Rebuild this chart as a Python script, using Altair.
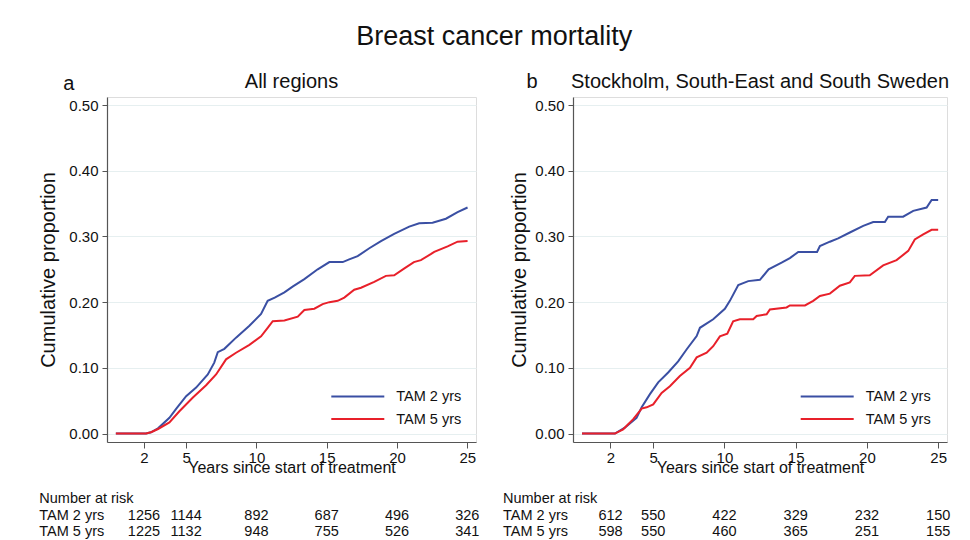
import altair as alt
import pandas as pd

FONT = "Liberation Sans"
BLUE = "#3a4fa3"
RED = "#e8202a"
GROUPS = ["TAM 2 yrs", "TAM 5 yrs"]

# ---- Panel a: All regions ----
a_blue_x = [0, 2.15, 2.5, 3.0, 3.81, 4.3, 5.0, 5.71, 6.54, 7.0, 7.25, 7.72, 8.55, 9.5, 10.33, 10.8, 11.3,
            11.99, 12.6, 13.41, 14.36, 15.19, 16.14, 16.6, 17.2, 18.03, 18.86, 19.8, 20.87, 21.58, 22.53,
            23.48, 24.31, 25.02]
a_blue_y = [0, 0, 0.002, 0.008, 0.024, 0.038, 0.057, 0.070, 0.090, 0.108, 0.124, 0.129, 0.146, 0.164, 0.182,
            0.202, 0.207, 0.215, 0.224, 0.235, 0.250, 0.261, 0.261, 0.265, 0.270, 0.282, 0.293, 0.304, 0.315,
            0.320, 0.321, 0.327, 0.337, 0.344]
a_red_x = [0, 2.15, 2.5, 3.0, 3.81, 4.52, 5.48, 6.42, 7.13, 7.84, 8.55, 9.5, 10.33, 10.8, 11.16, 11.99, 12.94,
           13.41, 14.12, 14.71, 15.19, 15.78, 16.25, 16.96, 17.44, 18.38, 19.21, 19.8, 20.5, 21.2, 21.7, 22.4,
           22.65, 23.6, 24.31, 25.02]
a_red_y = [0, 0, 0.002, 0.007, 0.017, 0.034, 0.055, 0.0735, 0.090, 0.113, 0.123, 0.135, 0.148, 0.161, 0.171,
           0.172, 0.178, 0.188, 0.190, 0.197, 0.200, 0.202, 0.207, 0.219, 0.222, 0.231, 0.240, 0.241, 0.251,
           0.261, 0.264, 0.273, 0.2765, 0.285, 0.292, 0.293]

# ---- Panel b: Stockholm, South-East and South Sweden ----
b_blue_x = [0, 2.31, 3.01, 3.83, 4.19, 4.77, 5.35, 6.05, 6.75, 7.34, 8.05, 8.28, 9.21, 10.03, 10.38, 10.97,
            11.67, 12.49, 13.1, 14.01, 14.59, 15.18, 16.5, 16.7, 17.4, 17.98, 18.8, 19.74, 20.44, 21.26, 21.49,
            22.54, 23.25, 24.19, 24.54, 25.0]
b_blue_y = [0, 0, 0.009, 0.024, 0.040, 0.060, 0.078, 0.093, 0.110, 0.128, 0.1485, 0.161, 0.174, 0.190, 0.202,
            0.226, 0.232, 0.234, 0.250, 0.260, 0.267, 0.2765, 0.2765, 0.2855, 0.292, 0.297, 0.306, 0.316, 0.322,
            0.322, 0.330, 0.330, 0.339, 0.344, 0.3555, 0.3555]
b_red_x = [0, 2.31, 2.89, 3.6, 4.19, 4.54, 5.0, 5.59, 6.17, 6.87, 7.58, 8.05, 8.75, 9.21, 9.68, 10.2, 10.61,
           11.08, 12.02, 12.26, 12.96, 13.19, 14.36, 14.59, 15.65, 16.23, 16.7, 17.4, 18.1, 18.8, 19.15, 20.2,
           21.14, 22.08, 22.9, 23.36, 23.95, 24.54, 25.0]
b_red_y = [0, 0, 0.0065, 0.022, 0.038, 0.040, 0.0445, 0.062, 0.072, 0.0875, 0.100, 0.116, 0.123, 0.133, 0.148,
           0.152, 0.171, 0.174, 0.174, 0.179, 0.1815, 0.189, 0.192, 0.195, 0.195, 0.202, 0.2095, 0.213, 0.225,
           0.230, 0.240, 0.241, 0.256, 0.264, 0.278, 0.2955, 0.303, 0.310, 0.310]

# ---- Number at risk ----
risk_years = [2, 5, 10, 15, 20, 25]
a_n2 = [1256, 1144, 892, 687, 496, 326]
a_n5 = [1225, 1132, 948, 755, 526, 341]
b_n2 = [612, 550, 422, 329, 232, 150]
b_n5 = [598, 550, 460, 365, 251, 155]

y_ticks = [0, 0.1, 0.2, 0.3, 0.4, 0.5]

X_SCALE = alt.Scale(domain=[-0.63, 25.62], nice=False, zero=False)
Y_SCALE = alt.Scale(domain=[-0.0128, 0.5122], nice=False, zero=False)
PLOT_H = 345

X_AXIS = alt.Axis(values=risk_years, title="Years since start of treatment", grid=False,
                  labelFontSize=15, labelFont=FONT, labelColor="#111", labelPadding=2,
                  labelFlush=False, labelOverlap=False,
                  tickSize=6, tickColor="#555", domainColor="#555", domainWidth=1.2,
                  titleFontSize=16, titleFont=FONT, titleFontWeight="normal", titleColor="#111",
                  titleY=30.3, titleBaseline="alphabetic")


def xenc():
    return alt.X("year:Q", scale=X_SCALE, axis=X_AXIS)


def txt(s, x, y, size, align="left", baseline="alphabetic"):
    return alt.Chart(pd.DataFrame({"t": [s]})).mark_text(
        align=align, baseline=baseline, fontSize=size, font=FONT, color="#111"
    ).encode(x=alt.value(x), y=alt.value(y), text="t:N")


def panel(letter, title, bx, by, rx, ry, n2, n5, width, letter_pos, ytitle_x, row_x, leg_x1, leg_x2, leg_tx):
    df = pd.concat([
        pd.DataFrame({"year": bx, "value": by, "group": GROUPS[0]}),
        pd.DataFrame({"year": rx, "value": ry, "group": GROUPS[1]}),
    ])
    lines = alt.Chart(df).mark_line(strokeWidth=2).encode(
        x=xenc(),
        y=alt.Y("value:Q", scale=Y_SCALE,
                axis=alt.Axis(values=y_ticks, format=".2f", title="Cumulative proportion",
                              grid=True, gridColor="#e6eff0", gridWidth=1,
                              labelFontSize=15, labelFont=FONT, labelColor="#111", labelPadding=4,
                              tickSize=5, tickColor="#555", domainColor="#555", domainWidth=1.2,
                              titleFontSize=20, titleFont=FONT, titleFontWeight="normal",
                              titleColor="#111", titleX=ytitle_x, titleBaseline="alphabetic",
                              titleAngle=270)),
        color=alt.Color("group:N", scale=alt.Scale(domain=GROUPS, range=[BLUE, RED]), legend=None),
    )

    layers = [lines,
              txt(letter, letter_pos[0], letter_pos[1], 20),
              txt(title, width / 2, -9, 20, align="center")]

    # legend (drawn inside the plot area)
    leg_rows = [299.4, 322.0]
    for g, c, ly in zip(GROUPS, [BLUE, RED], leg_rows):
        gdf = pd.DataFrame({"g": [g]})
        layers.append(alt.Chart(gdf).mark_rule(color=c, strokeWidth=2).encode(
            x=alt.value(leg_x1), x2=alt.value(leg_x2), y=alt.value(ly)))
        layers.append(txt(g, leg_tx, ly + 1, 14.5, baseline="middle"))

    # number at risk table
    layers.append(txt("Number at risk", row_x, 405.7, 14.5))
    for g, ns, ry_ in zip(GROUPS, [n2, n5], [422.7, 439.2]):
        layers.append(txt(g, row_x, ry_, 14.5))
        layers.append(alt.Chart(pd.DataFrame({"year": risk_years, "n": ns})).mark_text(
            align="center", baseline="alphabetic", fontSize=14.5, font=FONT, color="#111"
        ).encode(x=xenc(), y=alt.value(ry_), text="n:Q"))

    return alt.layer(*layers).properties(width=width, height=PLOT_H)


left = panel("a", "All regions", a_blue_x, a_blue_y, a_red_x, a_red_y, a_n2, a_n5,
             369, (-43.7, -7), -52.7, -67.7, 224.3, 277.3, 289.3)
right = panel("b", "Stockholm, South-East and South Sweden", b_blue_x, b_blue_y, b_red_x, b_red_y,
              b_n2, b_n5, 374, (-46.6, -9), -47.3, -70, 227.7, 280.7, 292.7)

chart = alt.hconcat(left, right, spacing=22).properties(
    title=alt.TitleParams("Breast cancer mortality", fontSize=27, font=FONT, fontWeight="normal",
                          color="#111", anchor="middle", offset=21),
    padding={"left": 29, "top": 14, "right": 5, "bottom": 0},
).configure_view(stroke=None).configure(background="white")

chart.save("out.html", embed_options={"renderer": "svg", "actions": False})
